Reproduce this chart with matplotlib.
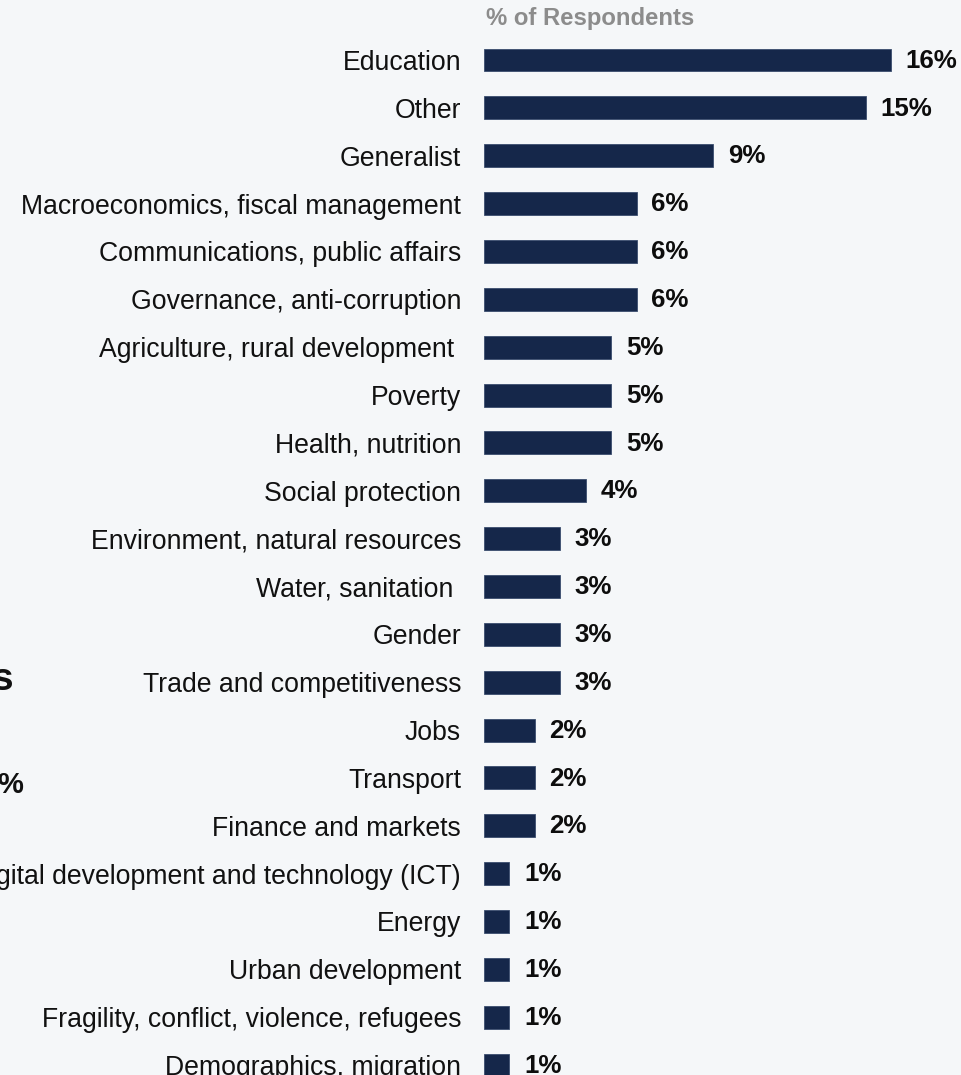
import matplotlib.pyplot as plt

# sector of expertise, % of respondents
categories = [
    "Education", "Other", "Generalist", "Macroeconomics, fiscal management",
    "Communications, public affairs", "Governance, anti-corruption",
    "Agriculture, rural development ", "Poverty", "Health, nutrition",
    "Social protection", "Environment, natural resources", "Water, sanitation ",
    "Gender", "Trade and competitiveness", "Jobs", "Transport",
    "Finance and markets", "Digital development and technology (ICT)",
    "Energy", "Urban development", "Fragility, conflict, violence, refugees",
    "Demographics, migration",
]
values = [16, 15, 9, 6, 6, 6, 5, 5, 5, 4, 3, 3, 3, 3, 2, 2, 2, 1, 1, 1, 1, 1]
value_labels = [f"{v}%" for v in values]

bg = "#f5f7f9"
navy = "#15274a"
plt.rcParams["font.family"] = ["Liberation Sans", "DejaVu Sans"]

W, H = 961, 1075
fig = plt.figure(figsize=(W / 100, H / 100), dpi=100, facecolor=bg)
ax = fig.add_axes([484 / W, 0, 1 - 484 / W, 1], facecolor=bg)

pos = list(range(len(categories)))
ax.barh(pos, values, height=0.48, color=navy, edgecolor="#3a4d6e", linewidth=0.6)

for p, v, lab in zip(pos, values, value_labels):
    ax.annotate(lab, (v, p), xytext=(10.5, -0.5), textcoords="offset points",
                ha="left", va="center", fontsize=18.6, fontweight="bold",
                color="#0d0d0d")

px_per_unit = 25.45
ax.set_xlim(0, (W - 484) / px_per_unit)
step = 47.86
ax.set_ylim((H - 60) / step, -60 / step)

ax.set_yticks(pos)
ax.set_yticklabels(categories, fontsize=19.2, color="#111111")
ax.tick_params(axis="y", length=0, pad=16.5)
ax.set_xticks([])
for s in ax.spines.values():
    s.set_visible(False)

fig.text(486 / W, 1 - 18 / H, "% of Respondents", ha="left", va="center",
         fontsize=17.2, fontweight="bold", color="#8c8c8c")

# fragments of neighbouring slide content cut off at the left edge
fig.text(13 / W, 1 - 680 / H, "s", ha="right", va="center", fontsize=28,
         fontweight="bold", color="#111111")
fig.text(23 / W, 1 - 785 / H, "%", ha="right", va="center", fontsize=21,
         fontweight="bold", color="#111111")

fig.savefig("out.png", dpi=100, facecolor=bg)
